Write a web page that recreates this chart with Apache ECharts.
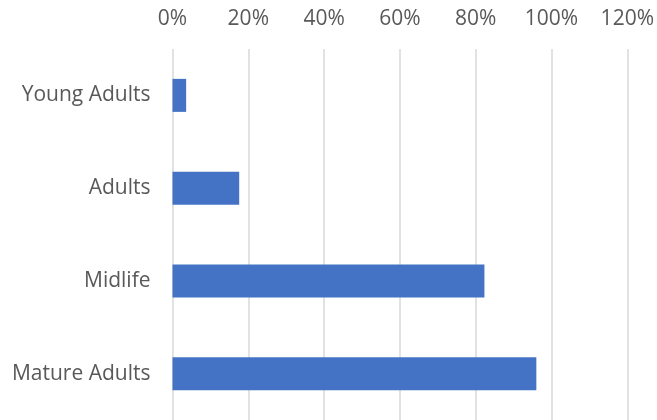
<!DOCTYPE html>
<html>
<head>
<meta charset="utf-8">
<script src="https://cdn.jsdelivr.net/npm/echarts@6/dist/echarts.min.js"></script>
<style>
  html, body { margin: 0; padding: 0; background: #ffffff; }
  #chart { width: 657px; height: 420px; }
</style>
</head>
<body>
<div id="chart"></div>
<script>
// Age groups, listed top to bottom
const categories = ['Young Adults', 'Adults', 'Midlife', 'Mature Adults'];
// Share for each age group, in percent
const shares = [3.6, 17.6, 82.3, 96];
// Value axis range and step, in percent
const axisMin = 0;
const axisMax = 120;
const axisStep = 20;

const chart = echarts.init(document.getElementById('chart'), null, { renderer: 'canvas' });

const font = '"Open Sans", Lato, sans-serif';

chart.setOption({
  animation: false,
  grid: { left: 172.5, right: 28.5, top: 49, height: 372, containLabel: false },
  xAxis: {
    type: 'value',
    position: 'top',
    min: axisMin,
    max: axisMax,
    interval: axisStep,
    axisLine: { show: false },
    axisTick: { show: false },
    axisLabel: {
      formatter: v => v + '%',
      color: '#595959',
      fontFamily: font,
      fontSize: 21,
      margin: 19
    },
    splitLine: { show: true, lineStyle: { color: '#d9d9d9', width: 1.5 } }
  },
  yAxis: {
    type: 'category',
    data: categories,
    inverse: true,
    axisLine: { show: false },
    axisTick: { show: false },
    axisLabel: {
      color: '#595959',
      fontFamily: font,
      fontSize: 21,
      margin: 22
    },
    splitLine: { show: false }
  },
  series: [{
    type: 'bar',
    data: shares,
    barWidth: 33,
    itemStyle: { color: '#4472C4' }
  }]
});
</script>
</body>
</html>
